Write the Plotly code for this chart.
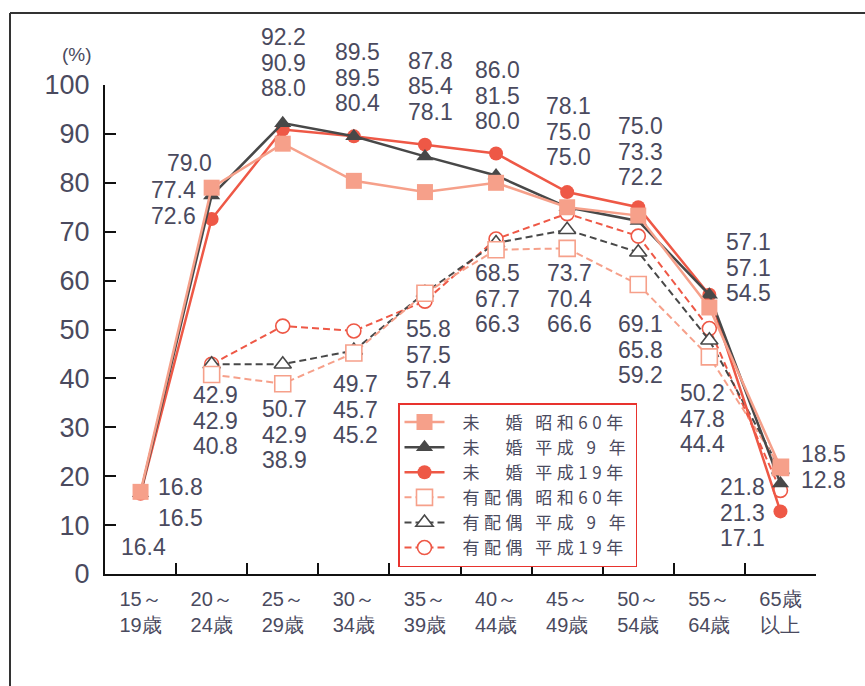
import plotly.graph_objects as go

# Age groups (x axis)
categories = ["15～<br>19歳", "20～<br>24歳", "25～<br>29歳", "30～<br>34歳", "35～<br>39歳",
              "40～<br>44歳", "45～<br>49歳", "50～<br>54歳", "55～<br>64歳", "65歳<br>以上"]

# 未婚 (unmarried)
unmarried_s60 = [16.8, 79.0, 88.0, 80.4, 78.1, 80.0, 75.0, 73.3, 54.5, 21.8]
unmarried_h9 = [16.5, 77.4, 92.2, 89.5, 85.4, 81.5, 75.0, 72.2, 57.1, 18.5]
unmarried_h19 = [16.4, 72.6, 90.9, 89.5, 87.8, 86.0, 78.1, 75.0, 57.1, 12.8]

# 有配偶 (married)
married_s60 = [None, 40.8, 38.9, 45.2, 57.4, 66.3, 66.6, 59.2, 44.4, 21.8]
married_h9 = [None, 42.9, 42.9, 45.7, 57.5, 67.7, 70.4, 65.8, 47.8, 21.3]
married_h19 = [None, 42.9, 50.7, 49.7, 55.8, 68.5, 73.7, 69.1, 50.2, 17.1]

y_ticks = [0, 10, 20, 30, 40, 50, 60, 70, 80, 90, 100]

SALMON = "#F6A08A"
GRAY = "#484848"
RED = "#EE5846"
TEXT = "#4a4a5e"
NUM_FONT = "Liberation Sans, Arial, sans-serif"
JP_FONT = "Noto Sans CJK JP, sans-serif"

series = {
    "uS60": unmarried_s60, "uH9": unmarried_h9, "uH19": unmarried_h19,
    "mS60": married_s60, "mH9": married_h9, "mH19": married_h19,
}

# trace specs: key, legend name, colour, symbol, dashed/open, legend rank
specs = [
    ("mH19", "有配偶 平成19年", RED, "circle", True, 6),
    ("mH9", "有配偶 平成 9 年", GRAY, "triangle-up", True, 5),
    ("mS60", "有配偶 昭和60年", SALMON, "square", True, 4),
    ("uH19", "未　婚 平成19年", RED, "circle", False, 3),
    ("uH9", "未　婚 平成 9 年", GRAY, "triangle-up", False, 2),
    ("uS60", "未　婚 昭和60年", SALMON, "square", False, 1),
]
sizes = {"circle": 14, "triangle-up": 15, "square": 16}

fig = go.Figure()
for key, name, color, symbol, married, rank in specs:
    fig.add_trace(go.Scatter(
        x=categories, y=series[key], mode="lines+markers",
        name=f'<span style="letter-spacing:4.5px">\u2002{name}</span>',
        legendrank=rank,
        line=dict(color=color, width=2 if married else 2.5,
                  dash="7px,4px" if married else "solid"),
        marker=dict(symbol=symbol, size=sizes[symbol],
                    color="white" if married else color,
                    line=dict(color=color, width=1.6 if married else 0)),
    ))

# Plot area in pixels
L, R, T, B = 105, 816, 85, 574


def px(x):
    return (x - L) / (R - L)


def py(y):
    return (B - y) / (B - T)


# value labels: (category index, series keys top to bottom, centre x px, first line y px)
label_blocks = [
    (0, ["uS60"], 180, 487), (0, ["uH9"], 180, 518), (0, ["uH19"], 143, 547),
    (1, ["uS60"], 189, 163), (1, ["uH9", "uH19"], 173, 190),
    (2, ["uH9", "uH19", "uS60"], 283, 37),
    (3, ["uH9", "uH19", "uS60"], 357, 52),
    (4, ["uH19", "uH9", "uS60"], 430, 61),
    (5, ["uH19", "uH9", "uS60"], 497, 70),
    (6, ["uH19", "uS60", "uH9"], 568, 106),
    (7, ["uH19", "uS60", "uH9"], 640, 126),
    (8, ["uH9", "uH19", "uS60"], 748, 242),
    (9, ["uH9", "uH19"], 823, 454),
    (9, ["uS60", "mH9", "mH19"], 742, 487),
    (1, ["mH19", "mH9", "mS60"], 215, 395),
    (2, ["mH19", "mH9", "mS60"], 284, 409),
    (3, ["mH19", "mH9", "mS60"], 355, 384),
    (4, ["mH19", "mH9", "mS60"], 428, 329),
    (5, ["mH19", "mH9", "mS60"], 497, 273),
    (6, ["mH19", "mH9", "mS60"], 569, 273),
    (7, ["mH19", "mH9", "mS60"], 640, 324),
    (8, ["mH19", "mH9", "mS60"], 702, 393),
]
LINE_STEP = 25.5

annotations = []
for cat, keys, xc, y0 in label_blocks:
    for i, k in enumerate(keys):
        annotations.append(dict(
            x=px(xc), y=py(y0 + i * LINE_STEP), xref="paper", yref="paper",
            text=f"{series[k][cat]:.1f}", showarrow=False,
            xanchor="center", yanchor="middle",
            font=dict(family=NUM_FONT, size=23, color=TEXT),
        ))

annotations.append(dict(
    x=px(77), y=py(54), xref="paper", yref="paper", text="(%)", showarrow=False,
    xanchor="center", yanchor="middle", font=dict(family=NUM_FONT, size=19, color=TEXT),
))

fig.update_layout(
    width=865, height=686, autosize=False,
    margin=dict(l=L, r=865 - R, t=T, b=686 - B),
    paper_bgcolor="white", plot_bgcolor="white",
    showlegend=True,
    legend=dict(
        x=px(398), y=py(403), xanchor="left", yanchor="top",
        bgcolor="white", bordercolor="#E8332E", borderwidth=1.5,
        font=dict(family=JP_FONT, size=17, color=TEXT),
        tracegroupgap=0, itemwidth=40,
    ),
    xaxis=dict(
        type="category", categoryorder="array", categoryarray=categories,
        range=[-0.5, 9.5], tickson="boundaries",
        showline=True, linecolor="#111", linewidth=2,
        ticks="inside", ticklen=11, tickwidth=2, tickcolor="#111",
        showgrid=False, zeroline=False, ticklabelstandoff=6,
        tickfont=dict(family=NUM_FONT, size=20, color=TEXT),
    ),
    yaxis=dict(
        range=[0, 100], tickvals=y_ticks,
        showline=True, linecolor="#111", linewidth=2,
        ticks="inside", ticklen=11, tickwidth=2, tickcolor="#111",
        showgrid=False, zeroline=False, ticklabelstandoff=8,
        tickfont=dict(family=NUM_FONT, size=27, color=TEXT),
    ),
    annotations=annotations,
    shapes=[
        # outer frame (top and left edges)
        dict(type="line", xref="paper", yref="paper", x0=px(10), x1=px(900),
             y0=py(13), y1=py(13), line=dict(color="#333", width=2)),
        dict(type="line", xref="paper", yref="paper", x0=px(10), x1=px(10),
             y0=py(13), y1=py(720), line=dict(color="#333", width=2)),
    ],
)

fig.write_html("out.html")
